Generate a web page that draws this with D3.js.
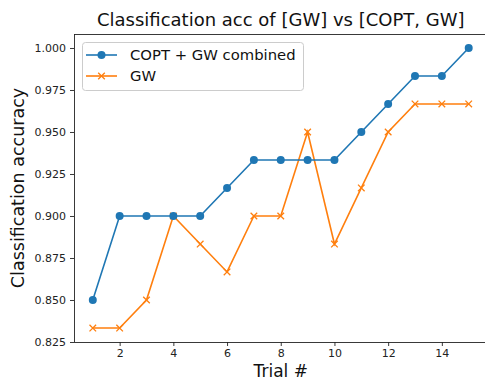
<!DOCTYPE html>
<html><head><meta charset="utf-8">
<script src="https://cdn.jsdelivr.net/npm/d3@7"></script>
<style>body{margin:0;background:#fff}svg{display:block}text{font-family:"DejaVu Sans",sans-serif}</style>
</head><body><svg id="c" width="485" height="380"></svg>
<script>
const trials = [1,2,3,4,5,6,7,8,9,10,11,12,13,14,15];
const combined = [0.85,0.9,0.9,0.9,0.9,0.9167,0.9333,0.9333,0.9333,0.9333,0.95,0.9667,0.9833,0.9833,1.0];
const gw = [0.8333,0.8333,0.85,0.9,0.8833,0.8667,0.9,0.9,0.95,0.8833,0.9167,0.95,0.9667,0.9667,0.9667];
const seriesNames = ["COPT + GW combined","GW"];
const xTicks = [2,4,6,8,10,12,14];
const yTicks = [0.825,0.85,0.875,0.9,0.925,0.95,0.975,1.0];
const title = "Classification acc of [GW] vs [COPT, GW]";
const xLabel = "Trial #", yLabel = "Classification accuracy";

const L=74, R=487.5, T=34, B=342;
const svg=d3.select("#c");
const x=d3.scaleLinear().domain([0.3,15.7]).range([L,R]);
const y=d3.scaleLinear().domain([0.825,1.00833]).range([B,T]);
const blue="#1f77b4", orange="#ff7f0e";

const xa=svg.append("g").attr("transform",`translate(0,${B})`)
  .call(d3.axisBottom(x).tickValues(xTicks).tickSize(4).tickPadding(3).tickFormat(d3.format("d")));
const ya=svg.append("g").attr("transform",`translate(${L},0)`)
  .call(d3.axisLeft(y).tickValues(yTicks).tickSize(4).tickPadding(4).tickFormat(d3.format(".3f")));
[xa,ya].forEach(a=>{a.selectAll("text").attr("font-size",11).attr("fill","#222");
  a.selectAll("line,path").attr("stroke","#222").attr("stroke-width",0.9);});
ya.select(".domain").attr("d",`M0.5,${B}V${T}`);
xa.select(".domain").attr("d",`M${L},0.5H${R}`);
svg.append("line").attr("x1",L).attr("x2",R).attr("y1",T+0.5).attr("y2",T+0.5).attr("stroke","#222").attr("stroke-width",0.9);

const line=d3.line().x((d,i)=>x(trials[i])).y(d=>y(d));
svg.append("path").attr("d",line(gw)).attr("fill","none").attr("stroke",orange).attr("stroke-width",1.6);
svg.append("path").attr("d",line(combined)).attr("fill","none").attr("stroke",blue).attr("stroke-width",1.6);
const xm=(g,cx,cy,s)=>g.append("path").attr("d",`M${cx-s},${cy-s}L${cx+s},${cy+s}M${cx-s},${cy+s}L${cx+s},${cy-s}`).attr("stroke",orange).attr("stroke-width",1.3).attr("fill","none");
const gx=svg.append("g");
gw.forEach((d,i)=>xm(gx,x(trials[i]),y(d),3.3));
svg.append("g").selectAll("circle").data(combined).join("circle")
  .attr("cx",(d,i)=>x(trials[i])).attr("cy",d=>y(d)).attr("r",4).attr("fill",blue);

// legend
const lg=svg.append("g");
lg.append("rect").attr("x",82.5).attr("y",42.5).attr("width",221).attr("height",48).attr("rx",3)
  .attr("fill","#fff").attr("fill-opacity",0.8).attr("stroke","#ccc");
[0,1].forEach(k=>{
  const cy=k?76:55, c=k?orange:blue;
  lg.append("line").attr("x1",86).attr("x2",117).attr("y1",cy).attr("y2",cy).attr("stroke",c).attr("stroke-width",1.6);
  if(k) xm(lg,101.5,cy,3.3); else lg.append("circle").attr("cx",101.5).attr("cy",cy).attr("r",4).attr("fill",c);
  lg.append("text").attr("x",130).attr("y",cy+5).attr("font-size",14.8).attr("fill","#111").text(seriesNames[k]);
});

svg.append("text").attr("x",(L+R)/2).attr("y",26).attr("text-anchor","middle").attr("font-size",18).attr("fill","#111").text(title);
svg.append("text").attr("x",(L+R)/2).attr("y",377).attr("text-anchor","middle").attr("font-size",17).attr("fill","#111").text(xLabel);
svg.append("text").attr("transform",`translate(24,${(T+B)/2}) rotate(-90)`).attr("text-anchor","middle").attr("font-size",17.5).attr("fill","#111").text(yLabel);
</script></body></html>
